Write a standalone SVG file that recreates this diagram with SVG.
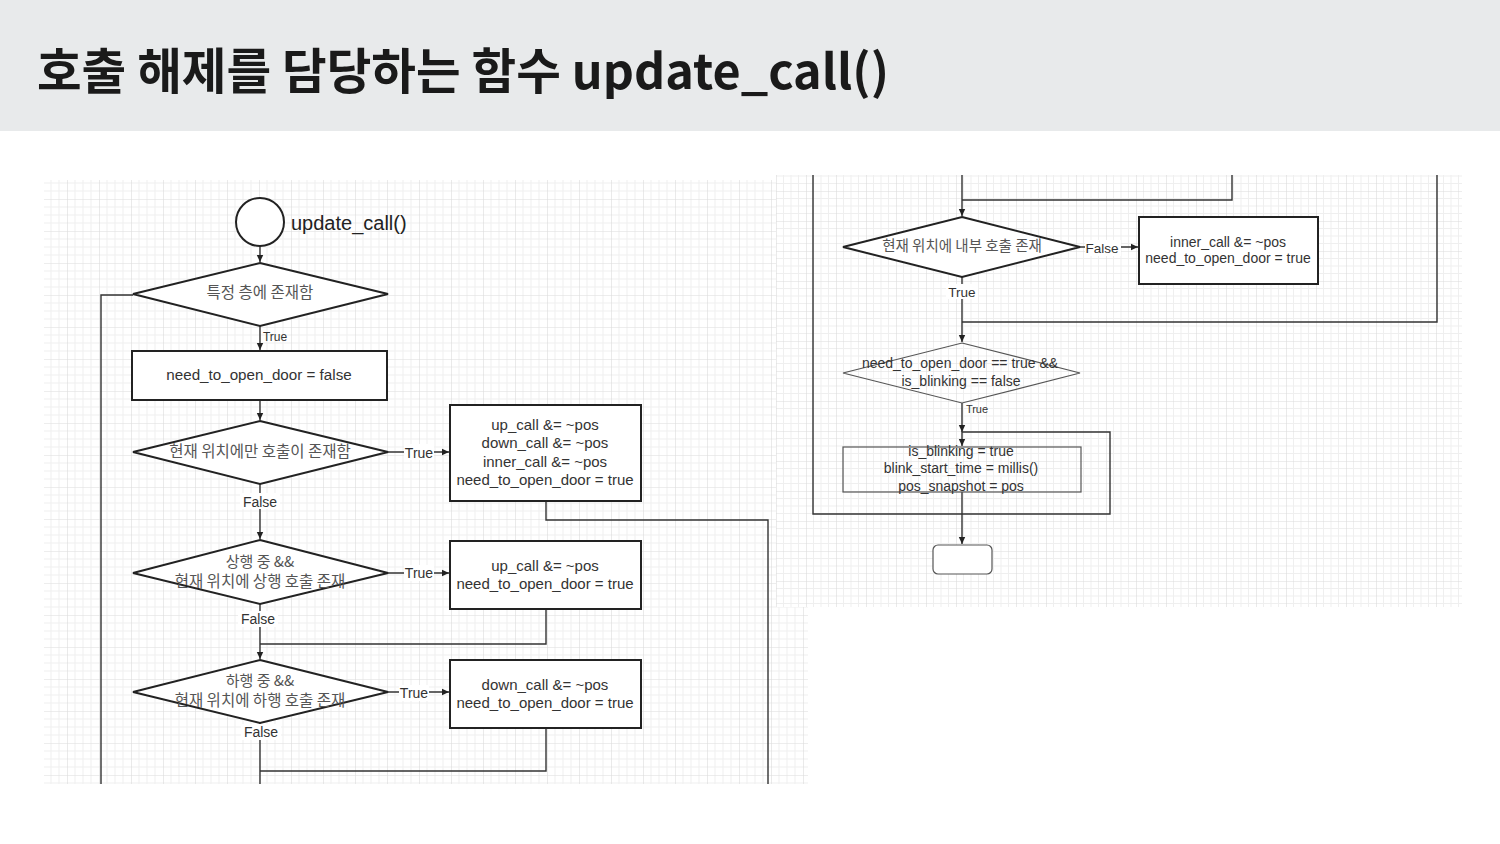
<svg xmlns="http://www.w3.org/2000/svg" width="1500" height="844" viewBox="0 0 1500 844">
<defs>
<pattern id="gridL" x="3" y="7" width="32" height="32" patternUnits="userSpaceOnUse">
<path d="M8 0V32M16 0V32M24 0V32M0 8H32M0 16H32M0 24H32" stroke="#efefef" stroke-width="1" fill="none"/>
<path d="M0 0V32M0 0H32" stroke="#dcdcdc" stroke-width="1.2" fill="none"/>
</pattern>
<pattern id="gridR" x="26" y="11" width="30" height="30" patternUnits="userSpaceOnUse">
<path d="M7.5 0V30M15 0V30M22.5 0V30M0 7.5H30M0 15H30M0 22.5H30" stroke="#efefef" stroke-width="1" fill="none"/>
<path d="M0 0V30M0 0H30" stroke="#dcdcdc" stroke-width="1.2" fill="none"/>
</pattern>
<marker id="arr" markerWidth="8" markerHeight="8" refX="7" refY="4" orient="auto" markerUnits="userSpaceOnUse">
<path d="M0 0.8L7 4L0 7.2Z" fill="#222"/>
</marker>
</defs>
<style>
.shape{fill:#fff;stroke:#222;stroke-width:2}
.thin{fill:#fff;stroke:#555;stroke-width:1.2}
.edge{fill:none;stroke:#333;stroke-width:1.4}
.t{font-family:"Liberation Sans","Noto Sans CJK KR",sans-serif;fill:#333;text-anchor:middle}
.k{font-family:"Noto Sans CJK KR","Liberation Sans",sans-serif;fill:#555;text-anchor:middle}
.lbl{font-family:"Liberation Sans",sans-serif;fill:#333;text-anchor:middle}
</style>
<rect x="0" y="0" width="1500" height="844" fill="#fff"/>
<rect x="0" y="0" width="1500" height="131" fill="#e8eaeb"/>
<text x="37" y="89" font-family="'Noto Sans CJK KR','Noto Sans',sans-serif" font-weight="bold" font-size="48.5" fill="#1a1a1a">호출 해제를 담당하는 함수 update_call()</text>

<rect x="44" y="180" width="764" height="604" fill="#fff"/>
<rect x="44" y="180" width="764" height="604" fill="url(#gridL)"/>
<rect x="776" y="175" width="686" height="432" fill="#fff"/>
<rect x="776" y="175" width="686" height="432" fill="url(#gridR)"/>

<g id="connectors">
<path class="edge" d="M260 246V262" marker-end="url(#arr)"/>
<path class="edge" d="M260 326V350" marker-end="url(#arr)"/>
<path class="edge" d="M133 295H101V784"/>
<path class="edge" d="M260 400V420" marker-end="url(#arr)"/>
<path class="edge" d="M388 452H449" marker-end="url(#arr)"/>
<path class="edge" d="M260 484V539" marker-end="url(#arr)"/>
<path class="edge" d="M546 501V520H768V784"/>
<path class="edge" d="M388 573H449" marker-end="url(#arr)"/>
<path class="edge" d="M260 604V659" marker-end="url(#arr)"/>
<path class="edge" d="M546 609V644H260"/>
<path class="edge" d="M388 692H449" marker-end="url(#arr)"/>
<path class="edge" d="M260 723V784"/>
<path class="edge" d="M546 728V771H260"/>

<path class="edge" d="M962 175V216" marker-end="url(#arr)"/>
<path class="edge" d="M1232 175V200H962"/>
<path class="edge" d="M1080 247H1138" marker-end="url(#arr)"/>
<path class="edge" d="M962 277V342" marker-end="url(#arr)"/>
<path class="edge" d="M1437 175V322H962"/>
<path class="edge" d="M962 403V432" marker-end="url(#arr)"/>
<path class="edge" d="M813 175V514H1110V432H962V446" marker-end="url(#arr)"/>
<path class="edge" d="M962 492V544" marker-end="url(#arr)"/>

<g>
<rect x="404" y="444" width="30" height="16" fill="#fff"/>
<text class="lbl" x="419" y="458" font-size="14">True</text>
<rect x="240" y="493" width="40" height="16" fill="#fff"/>
<text class="lbl" x="260" y="507" font-size="14">False</text>
<rect x="404" y="565" width="30" height="16" fill="#fff"/>
<text class="lbl" x="419" y="578" font-size="14">True</text>
<rect x="238" y="611" width="40" height="16" fill="#fff"/>
<text class="lbl" x="258" y="624" font-size="14">False</text>
<rect x="399" y="685" width="30" height="16" fill="#fff"/>
<text class="lbl" x="414" y="698" font-size="14">True</text>
<rect x="241" y="724" width="40" height="16" fill="#fff"/>
<text class="lbl" x="261" y="737" font-size="14">False</text>
<text class="lbl" x="275" y="341" font-size="12" fill="#333">True</text>
<rect x="1085" y="240" width="36" height="16" fill="#fff"/>
<text class="lbl" x="1102" y="253" font-size="13.5">False</text>
<rect x="946" y="284" width="32" height="15" fill="#fff"/>
<text class="lbl" x="962" y="297" font-size="13.5">True</text>
<text class="lbl" x="977" y="413" font-size="11">True</text>
</g>
</g>

<g id="start">
<circle cx="260" cy="222" r="24" class="shape"/>
<text x="291" y="230" font-family="'Liberation Sans',sans-serif" font-size="20" fill="#222">update_call()</text>
</g>
<g id="d1">
<path class="shape" d="M260 263L388 294L260 326L133 294Z"/>
<text class="k" x="260" y="298" font-size="15.5">특정 층에 존재함</text>
</g>
<g id="b1">
<rect class="shape" x="132" y="351" width="255" height="49"/>
<text class="t" x="259" y="380" font-size="15.2">need_to_open_door = false</text>
</g>
<g id="d2">
<path class="shape" d="M260 421L388 452L260 484L133 452Z"/>
<text class="k" x="260" y="457" font-size="15.5">현재 위치에만 호출이 존재함</text>
</g>
<g id="b2">
<rect class="shape" x="450" y="405" width="191" height="96"/>
<text class="t" x="545" y="430" font-size="15">up_call &amp;= ~pos</text>
<text class="t" x="545" y="448" font-size="15">down_call &amp;= ~pos</text>
<text class="t" x="545" y="467" font-size="15">inner_call &amp;= ~pos</text>
<text class="t" x="545" y="485" font-size="15">need_to_open_door = true</text>
</g>
<g id="d3">
<path class="shape" d="M260 540L388 573L260 604L133 573Z"/>
<text class="k" x="260" y="567" font-size="15">상행 중 &amp;&amp;</text>
<text class="k" x="260" y="587" font-size="15.5">현재 위치에 상행 호출 존재</text>
</g>
<g id="b3">
<rect class="shape" x="450" y="541" width="191" height="68"/>
<text class="t" x="545" y="571" font-size="15">up_call &amp;= ~pos</text>
<text class="t" x="545" y="589" font-size="15">need_to_open_door = true</text>
</g>
<g id="d4">
<path class="shape" d="M260 660L388 692L260 723L133 692Z"/>
<text class="k" x="260" y="686" font-size="15">하행 중 &amp;&amp;</text>
<text class="k" x="260" y="706" font-size="15.5">현재 위치에 하행 호출 존재</text>
</g>
<g id="b4">
<rect class="shape" x="450" y="660" width="191" height="68"/>
<text class="t" x="545" y="690" font-size="15">down_call &amp;= ~pos</text>
<text class="t" x="545" y="708" font-size="15">need_to_open_door = true</text>
</g>

<g id="d5">
<path class="shape" d="M962 217L1080 247L962 277L843 247Z"/>
<text class="k" x="962" y="251" font-size="14.5">현재 위치에 내부 호출 존재</text>
</g>
<g id="b5">
<rect class="shape" x="1139" y="217" width="179" height="67"/>
<text class="t" x="1228" y="247" font-size="14">inner_call &amp;= ~pos</text>
<text class="t" x="1228" y="263" font-size="14">need_to_open_door = true</text>
</g>
<g id="d6">
<path class="thin" d="M962 343L1080 373L962 403L843 373Z" fill-opacity="0"/>
<text class="t" x="960" y="368" font-size="14">need_to_open_door == true &amp;&amp;</text>
<text class="t" x="961" y="386" font-size="14">is_blinking == false</text>
</g>
<g id="b6">
<rect class="thin" x="843" y="447" width="238" height="45" fill-opacity="0"/>
<text class="t" x="961" y="456" font-size="14">is_blinking = true</text>
<text class="t" x="961" y="473" font-size="14">blink_start_time = millis()</text>
<text class="t" x="961" y="491" font-size="14">pos_snapshot = pos</text>
</g>
<g id="end">
<rect x="933" y="545" width="59" height="29" rx="5" fill="#fff" stroke="#555" stroke-width="1.2"/>
</g>
</svg>
